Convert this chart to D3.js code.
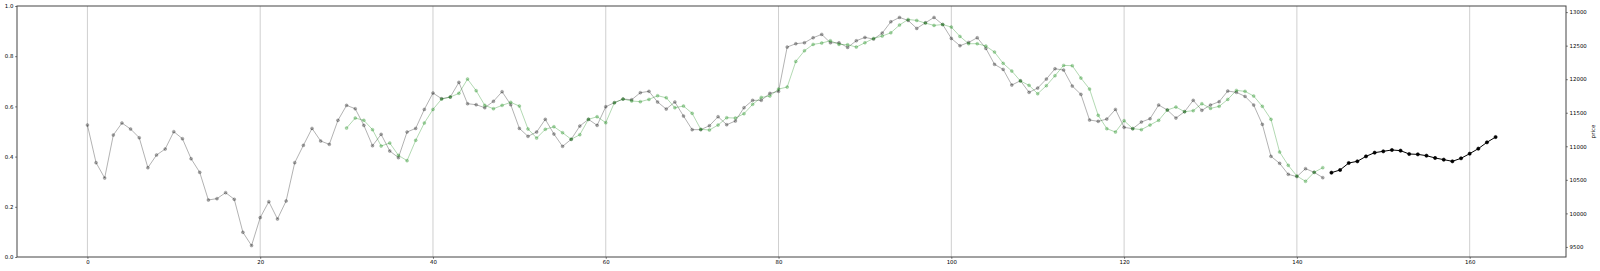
<!DOCTYPE html>
<html>
<head>
<meta charset="utf-8">
<script src="https://cdn.jsdelivr.net/npm/d3@7"></script>
<style>
  body { margin: 0; background: #fff; }
  svg text { font-family: "DejaVu Sans", sans-serif; font-size: 5.4px; fill: #000; }
</style>
</head>
<body>
<div id="chart"></div>
<script>
// series values (price)
var grayStart = 0;
var grayValues = [
  11317, 10756, 10527, 11168, 11347, 11257, 11128, 10681, 10870, 10959,
  11218, 11113, 10815, 10612, 10200, 10220, 10309, 10210, 9718, 9520,
  9937, 10175, 9917, 10185, 10756, 11014, 11267, 11079, 11029, 11387,
  11610, 11560, 11312, 11009, 11178, 10930, 10831, 11213, 11267, 11550,
  11794, 11709, 11734, 11953, 11635, 11620, 11575, 11670, 11814, 11620,
  11267, 11148, 11213, 11402, 11183, 10999, 11104, 11302, 11402, 11312,
  11590, 11650, 11704, 11694, 11799, 11819, 11660, 11555, 11660, 11451,
  11248, 11248, 11307, 11441, 11322, 11377, 11575, 11685, 11685, 11789,
  11819, 12479, 12529, 12543, 12618, 12668, 12543, 12543, 12474, 12573,
  12623, 12598, 12687, 12856, 12921, 12876, 12757, 12841, 12921, 12815,
  12608, 12499, 12548, 12618, 12459, 12221, 12146, 11913, 11977, 11804,
  11868, 12002, 12156, 12136, 11898, 11774, 11392, 11372, 11406, 11550,
  11282, 11263, 11362, 11411, 11615, 11541, 11421, 11516, 11685, 11536,
  11615, 11665, 11824, 11804, 11744, 11615, 11327, 10850, 10746, 10582,
  10548, 10667, 10612, 10533
];

var greenStart = 30;
var greenValues = [
  11272, 11421, 11387, 11248, 11004, 11049, 10865, 10786, 11089, 11347,
  11550, 11704, 11734, 11789, 12002, 11829, 11610, 11560, 11610, 11655,
  11600, 11258, 11123, 11253, 11292, 11203, 11104, 11173, 11402, 11441,
  11352, 11650, 11704, 11675, 11665, 11699, 11754, 11724, 11575, 11600,
  11491, 11253, 11243, 11317, 11426, 11421, 11486, 11625, 11729, 11749,
  11853, 11883, 12265, 12424, 12519, 12539, 12573, 12519, 12514, 12479,
  12543, 12608, 12643, 12692, 12807, 12891, 12876, 12836, 12802, 12815,
  12777, 12638, 12529, 12529, 12494, 12404, 12236, 12121, 11973, 11908,
  11784, 11903, 12052, 12206, 12201, 12017, 11853, 11461, 11263, 11213,
  11382, 11263, 11248, 11317, 11387, 11541, 11585, 11516, 11531, 11635,
  11565, 11595, 11699, 11833, 11819, 11749, 11595, 11402, 10915, 10716,
  10557, 10478, 10612, 10682
];

var blackStart = 144;
var blackValues = [
  10607, 10647, 10751, 10776, 10850, 10905, 10925, 10945, 10935, 10885,
  10880, 10860, 10826, 10801, 10776, 10821, 10890, 10965, 11059, 11138
];

// tick labels
var xTicks = [0, 20, 40, 60, 80, 100, 120, 140, 160];
var leftTicks = [0.0, 0.2, 0.4, 0.6, 0.8, 1.0];
var priceTicks = [9500, 10000, 10500, 11000, 11500, 12000, 12500, 13000];

var margin = { top: 6, right: 34, bottom: 14, left: 17 };
var width = 1600 - margin.left - margin.right;
var height = 271 - margin.top - margin.bottom;

function toPoints(start, values) {
  return values.map((v, i) => ({ x: start + i, y: v }));
}
var gray = toPoints(grayStart, grayValues);
var green = toPoints(greenStart, greenValues);
var black = toPoints(blackStart, blackValues);
var all = gray.concat(green, black);

// matplotlib style 5% margins
function padded(ext) {
  var p = (ext[1] - ext[0]) * 0.05;
  return [ext[0] - p, ext[1] + p];
}

var x = d3.scaleLinear()
  .domain(padded(d3.extent(all, d => d.x)))
  .range([0, width]);

var y = d3.scaleLinear()
  .domain(padded(d3.extent(all, d => d.y)))
  .range([height, 0]);

var yLeft = d3.scaleLinear()
  .domain([0, 1])
  .range([height, 0]);

var svg = d3.select("#chart")
  .append("svg")
    .attr("width", 1600)
    .attr("height", 271)
  .append("g")
    .attr("transform", "translate(" + margin.left + "," + margin.top + ")");

// vertical grid lines
svg.append("g")
  .selectAll("line")
  .data(xTicks)
  .enter()
    .append("line")
    .attr("x1", d => x(d))
    .attr("x2", d => x(d))
    .attr("y1", 0)
    .attr("y2", height)
    .attr("stroke", "#cfcfcf")
    .attr("stroke-width", 1);

// axes
var xAxis = svg.append("g")
  .attr("transform", "translate(0," + height + ")")
  .call(d3.axisBottom(x).tickValues(xTicks).tickSize(1.8).tickPadding(1.8).tickFormat(d3.format("d")));

var leftAxis = svg.append("g")
  .call(d3.axisLeft(yLeft).tickValues(leftTicks).tickSize(1.8).tickPadding(1.8).tickFormat(d3.format(".1f")));

var rightAxis = svg.append("g")
  .attr("transform", "translate(" + width + ",0)")
  .call(d3.axisRight(y).tickValues(priceTicks).tickSize(1.8).tickPadding(1.8).tickFormat(d3.format("d")));

[xAxis, leftAxis, rightAxis].forEach(a => {
  a.select(".domain").remove();
  a.selectAll("line").attr("stroke", "#333").attr("stroke-width", 0.7);
  a.selectAll("text").attr("font-family", null).attr("font-size", null).attr("fill", "#000");
});

// frame
svg.append("rect")
  .attr("x", 0)
  .attr("y", 0)
  .attr("width", width)
  .attr("height", height)
  .attr("fill", "none")
  .attr("stroke", "#444")
  .attr("stroke-width", 1);

// y label on right
svg.append("text")
  .attr("transform", "translate(" + (width + 27) + "," + (height / 2) + ") rotate(-90)")
  .style("text-anchor", "middle")
  .attr("dy", "0.35em")
  .text("price");

var line = d3.line()
  .x(d => x(d.x))
  .y(d => y(d.y));

function drawSeries(data, color, alpha, lw, r) {
  var g = svg.append("g");
  g.append("path")
    .datum(data)
    .attr("fill", "none")
    .attr("stroke", color)
    .attr("stroke-opacity", alpha)
    .attr("stroke-width", lw)
    .attr("d", line);
  g.selectAll("circle")
    .data(data)
    .enter()
      .append("circle")
      .attr("cx", d => x(d.x))
      .attr("cy", d => y(d.y))
      .attr("r", r)
      .attr("fill", color)
      .attr("fill-opacity", alpha)
      .attr("stroke", color)
      .attr("stroke-opacity", alpha)
      .attr("stroke-width", 0.6);
}

drawSeries(gray, "#000000", 0.3, 1, 1.5);
drawSeries(green, "#008000", 0.3, 1, 1.5);
drawSeries(black, "#000000", 1, 1, 1.6);
</script>
</body>
</html>
